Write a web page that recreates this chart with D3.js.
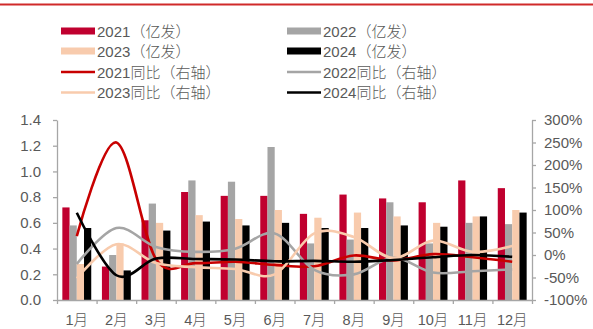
<!DOCTYPE html>
<html>
<head>
<meta charset="utf-8">
<script src="https://cdn.jsdelivr.net/npm/d3@7"></script>
<style>
  html, body { margin: 0; padding: 0; background: #fff; }
  svg { display: block; }
  text { font-family: "Liberation Sans", Arial, "Noto Sans CJK SC", sans-serif; fill: #595959; }
  .cjk { font-family: "Noto Sans CJK SC", sans-serif; font-weight: 300; }
</style>
</head>
<body>
<svg id="chart" width="593" height="329"></svg>
<script>
// Monthly shipments (亿发) and year-on-year growth (%, right axis)
const months = ["1月","2月","3月","4月","5月","6月","7月","8月","9月","10月","11月","12月"];

const vol2021 = [0.72, 0.26, 0.62, 0.84, 0.81, 0.81, 0.67, 0.82, 0.79, 0.76, 0.93, 0.87];
const vol2022 = [0.58, 0.35, 0.75, 0.93, 0.92, 1.19, 0.44, 0.47, 0.76, 0.44, 0.60, 0.59];
const vol2023 = [0.28, 0.44, 0.60, 0.66, 0.63, 0.70, 0.64, 0.68, 0.65, 0.60, 0.65, 0.70];
const vol2024 = [0.56, 0.23, 0.54, 0.61, 0.58, 0.60, 0.56, 0.56, 0.58, 0.57, 0.65, 0.68];

const yoy2021 = [42, 250, -9, -18, -15, -22, -25, -1, -12, 2, -5, -15];
const yoy2022 = [-20, 60, 18, 7, 14, 48, -33, -43, -6, -39, -36, -32];
const yoy2023 = [-52, 24, -18, -27, -31, -43, 48, 40, -7, 32, 7, 20];
const yoy2024 = [94, -45, -8, -9, -10, -14, -13, -15, -11, -5, 0, -4];

const leftTicks = [0, 0.2, 0.4, 0.6, 0.8, 1.0, 1.2, 1.4];
const rightTicks = [-100, -50, 0, 50, 100, 150, 200, 250, 300];

const colors = { y2021: "#c0002f", y2022: "#a5a5a5", y2023: "#f8cbad", y2024: "#000000" };
const lineColors = { y2021: "#c80000", y2022: "#a5a5a5", y2023: "#f8cbad", y2024: "#000000" };

const barSeries = [
  { key: "y2021", label: "2021", values: vol2021 },
  { key: "y2022", label: "2022", values: vol2022 },
  { key: "y2023", label: "2023", values: vol2023 },
  { key: "y2024", label: "2024", values: vol2024 }
];
const lineSeries = [
  { key: "y2021", label: "2021", values: yoy2021 },
  { key: "y2022", label: "2022", values: yoy2022 },
  { key: "y2023", label: "2023", values: yoy2023 },
  { key: "y2024", label: "2024", values: yoy2024 }
];

const svg = d3.select("#chart");
const plot = { left: 57, right: 532, top: 120, bottom: 300 };
const axisColor = "#a6a6a6";

// header rule
svg.append("line")
  .attr("x1", 0).attr("x2", 593).attr("y1", 4.5).attr("y2", 4.5)
  .attr("stroke", "#d02a2a").attr("stroke-width", 2);

const x0 = d3.scaleBand().domain(months).range([plot.left, plot.right]).padding(0);
const bw = x0.bandwidth();
const gap = bw * 0.135;
const x1 = d3.scaleBand().domain(barSeries.map(s => s.key)).range([gap, bw - gap]).padding(0);
const yL = d3.scaleLinear().domain([0, 1.4]).range([plot.bottom, plot.top]);
const yR = d3.scaleLinear().domain([-100, 300]).range([plot.bottom, plot.top]);

// bars
barSeries.forEach(s => {
  svg.append("g").selectAll("rect").data(s.values).join("rect")
    .attr("x", (d, i) => x0(months[i]) + x1(s.key))
    .attr("width", x1.bandwidth())
    .attr("y", d => yL(d))
    .attr("height", d => yL(0) - yL(d))
    .attr("fill", colors[s.key]);
});

// smoothed YoY lines
const line = d3.line()
  .x((d, i) => x0(months[i]) + bw / 2)
  .y(d => yR(d))
  .curve(d3.curveCatmullRom.alpha(0));

lineSeries.forEach(s => {
  svg.append("path").datum(s.values)
    .attr("d", line)
    .attr("fill", "none")
    .attr("stroke", lineColors[s.key])
    .attr("stroke-width", 2.6)
    .attr("stroke-linejoin", "round")
    .attr("stroke-linecap", "butt");
});

// axes
function styleAxis(g) {
  g.selectAll(".domain").attr("stroke", axisColor).attr("stroke-width", 1.3);
  g.selectAll(".tick line").attr("stroke", axisColor).attr("stroke-width", 1.3);
  g.selectAll(".tick text").attr("fill", "#595959").style("font-size", "15px")
    .style("font-family", "\"Liberation Sans\", Arial, \"Noto Sans CJK SC\", sans-serif");
}

const leftAxis = svg.append("g").attr("transform", `translate(${plot.left},0)`)
  .call(d3.axisLeft(yL).tickValues(leftTicks).tickFormat(d3.format(".1f"))
    .tickSize(4).tickSizeOuter(0).tickPadding(12));
styleAxis(leftAxis);

const rightAxis = svg.append("g").attr("transform", `translate(${plot.right},0)`)
  .call(d3.axisRight(yR).tickValues(rightTicks).tickFormat(d => d + "%")
    .tickSize(4).tickSizeOuter(0).tickPadding(8));
styleAxis(rightAxis);

// bottom axis: ticks at category boundaries
const boundaries = d3.scaleLinear().domain([0, 12]).range([plot.left, plot.right]);
const bottomAxis = svg.append("g").attr("transform", `translate(0,${plot.bottom})`)
  .call(d3.axisBottom(boundaries).tickValues(d3.range(0, 13)).tickFormat("")
    .tickSize(4).tickSizeOuter(0));
styleAxis(bottomAxis);

svg.append("g").selectAll("text").data(months).join("text")
  .attr("x", d => x0(d) + bw / 2)
  .attr("y", 324.5)
  .attr("text-anchor", "middle")
  .style("font-size", "14.5px")
  .each(function(d) {
    const t = d3.select(this);
    t.append("tspan").text(d.replace("月", ""));
    t.append("tspan").attr("class", "cjk").text("月");
  });

// legend
const legendCols = [61, 287];
const legendRows = [31, 51, 72, 92.5];
const legendItems = [
  { col: 0, row: 0, type: "bar", key: "y2021", year: "2021", tail: "（亿发）" },
  { col: 1, row: 0, type: "bar", key: "y2022", year: "2022", tail: "（亿发）" },
  { col: 0, row: 1, type: "bar", key: "y2023", year: "2023", tail: "（亿发）" },
  { col: 1, row: 1, type: "bar", key: "y2024", year: "2024", tail: "（亿发）" },
  { col: 0, row: 2, type: "line", key: "y2021", year: "2021", tail: "同比（右轴）" },
  { col: 1, row: 2, type: "line", key: "y2022", year: "2022", tail: "同比（右轴）" },
  { col: 0, row: 3, type: "line", key: "y2023", year: "2023", tail: "同比（右轴）" },
  { col: 1, row: 3, type: "line", key: "y2024", year: "2024", tail: "同比（右轴）" }
];
const lg = svg.append("g");
legendItems.forEach(it => {
  const x = legendCols[it.col], y = legendRows[it.row];
  if (it.type === "bar") {
    lg.append("rect").attr("x", x).attr("y", y - 3.5).attr("width", 34).attr("height", 7)
      .attr("fill", colors[it.key]);
  } else {
    lg.append("line").attr("x1", x).attr("x2", x + 34).attr("y1", y).attr("y2", y)
      .attr("stroke", lineColors[it.key]).attr("stroke-width", 2.6);
  }
  const t = lg.append("text").attr("x", x + 36).attr("y", y + 5.5).style("font-size", "15px");
  t.append("tspan").text(it.year);
  t.append("tspan").attr("class", "cjk").text(it.tail);
});
</script>
</body>
</html>
